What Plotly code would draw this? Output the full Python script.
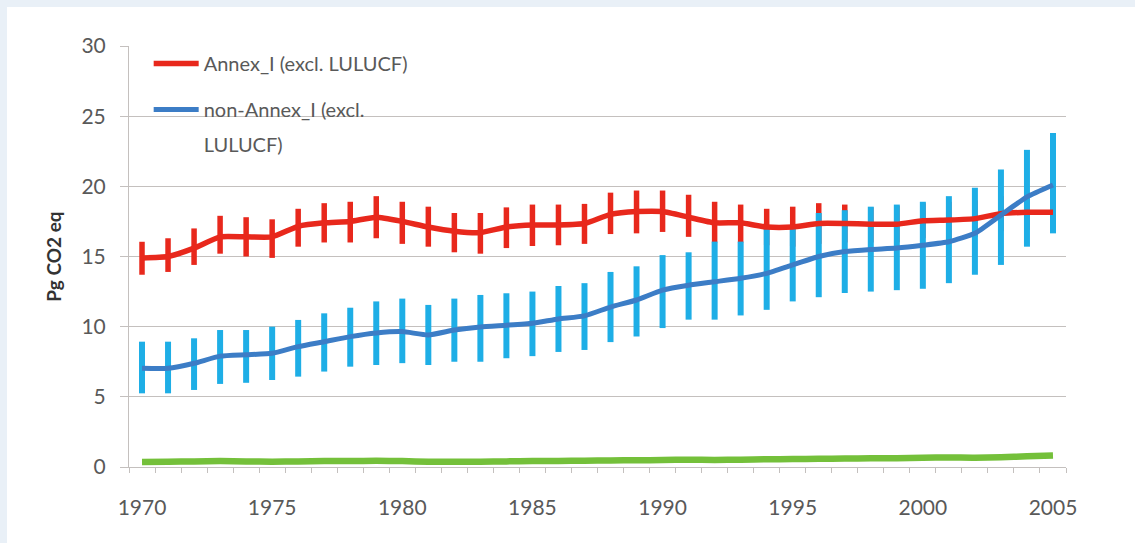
import plotly.graph_objects as go

years = list(range(1970, 2006))

annex_i = [14.9, 15.0, 15.6, 16.4, 16.4, 16.4, 17.15, 17.4, 17.5, 17.8,
           17.5, 17.1, 16.8, 16.7, 17.1, 17.25, 17.25, 17.35, 18.0, 18.2,
           18.2, 17.8, 17.4, 17.4, 17.1, 17.1, 17.35, 17.35, 17.3, 17.3,
           17.55, 17.6, 17.7, 18.05, 18.15, 18.15]
annex_i_upper = [16.05, 16.3, 17.0, 17.9, 17.8, 17.65, 18.4, 18.8, 18.9, 19.3,
                 18.9, 18.55, 18.1, 18.1, 18.5, 18.7, 18.7, 18.75, 19.55, 19.7,
                 19.7, 19.4, 18.9, 18.7, 18.4, 18.55, 18.8, 18.7, 18.5, 18.6,
                 18.8, 18.9, 19.0, 19.3, 19.4, 19.4]
annex_i_lower = [13.7, 13.9, 14.4, 15.2, 15.0, 14.9, 15.7, 16.0, 16.0, 16.3,
                 15.9, 15.7, 15.3, 15.2, 15.6, 15.75, 15.8, 15.9, 16.6, 16.65,
                 16.75, 16.4, 16.0, 16.0, 15.8, 15.7, 15.9, 16.0, 16.0, 16.0,
                 16.3, 16.3, 16.4, 16.8, 16.9, 16.9]

non_annex_i = [7.03, 7.03, 7.39, 7.9, 8.0, 8.1, 8.58, 8.93, 9.29, 9.55,
               9.65, 9.41, 9.76, 9.98, 10.1, 10.24, 10.55, 10.77, 11.4, 11.9,
               12.6, 12.95, 13.2, 13.45, 13.8, 14.4, 15.0, 15.35, 15.5, 15.6,
               15.8, 16.05, 16.65, 17.95, 19.25, 20.1]
non_annex_i_upper = [8.93, 8.93, 9.17, 9.76, 9.76, 10.0, 10.48, 10.95, 11.35, 11.8,
                     12.0, 11.55, 12.0, 12.26, 12.38, 12.5, 12.9, 13.1, 13.9, 14.3,
                     15.1, 15.3, 16.06, 16.06, 17.0, 17.1, 18.1, 18.3, 18.55, 18.7,
                     18.9, 19.3, 19.9, 21.2, 22.6, 23.8]
non_annex_i_lower = [5.25, 5.25, 5.49, 5.92, 6.0, 6.2, 6.44, 6.8, 7.15, 7.27,
                     7.4, 7.27, 7.5, 7.5, 7.75, 7.9, 8.2, 8.34, 8.9, 9.3,
                     9.9, 10.5, 10.5, 10.8, 11.2, 11.8, 12.1, 12.4, 12.5, 12.6,
                     12.7, 13.1, 13.7, 14.4, 15.7, 16.65]

third_series = [0.35, 0.38, 0.4, 0.42, 0.4, 0.38, 0.4, 0.42, 0.43, 0.44,
                0.42, 0.38, 0.37, 0.38, 0.4, 0.42, 0.43, 0.45, 0.47, 0.48,
                0.5, 0.52, 0.5, 0.52, 0.55, 0.57, 0.58, 0.6, 0.62, 0.63,
                0.66, 0.68, 0.66, 0.7, 0.76, 0.82]

tick_years = [1970, 1975, 1980, 1985, 1990, 1995, 2000, 2005]
y_ticks = [0, 5, 10, 15, 20, 25, 30]

legend_annex = "Annex_I (excl. LULUCF)"
legend_non_annex = "non-Annex_I (excl."
legend_non_annex_cont = "LULUCF)"

RED = "#E8281C"
BLUE_LINE = "#3C7DC6"
BLUE_BAR = "#1EAEE6"
GREEN = "#74C03A"
GRID = "#C4C0BE"
TXT = "#595959"
FONT = "Lato, 'Open Sans', sans-serif"

fig = go.Figure()

# red error bars (beneath)
fig.add_trace(go.Scatter(
    x=years, y=annex_i, mode="none", showlegend=False, hoverinfo="skip",
    error_y=dict(type="data", symmetric=False,
                 array=[u - v for u, v in zip(annex_i_upper, annex_i)],
                 arrayminus=[v - l for v, l in zip(annex_i, annex_i_lower)],
                 color=RED, thickness=5.5, width=0)))
# blue error bars
fig.add_trace(go.Scatter(
    x=years, y=non_annex_i, mode="none", showlegend=False, hoverinfo="skip",
    error_y=dict(type="data", symmetric=False,
                 array=[u - v for u, v in zip(non_annex_i_upper, non_annex_i)],
                 arrayminus=[v - l for v, l in zip(non_annex_i, non_annex_i_lower)],
                 color=BLUE_BAR, thickness=6, width=0)))
# green line
fig.add_trace(go.Scatter(
    x=years, y=third_series, mode="lines", showlegend=False,
    line=dict(color=GREEN, width=6.5, shape="spline", smoothing=0.6)))
# red line
fig.add_trace(go.Scatter(
    x=years, y=annex_i, mode="lines", name=legend_annex,
    legendgroup="a", legend="legend",
    line=dict(color=RED, width=5.5, shape="spline", smoothing=0.5)))
# blue line
fig.add_trace(go.Scatter(
    x=years, y=non_annex_i, mode="lines", name=legend_non_annex,
    legendgroup="b", legend="legend",
    line=dict(color=BLUE_LINE, width=5, shape="spline", smoothing=0.5)))
# continuation line of the second legend label (no mark)
fig.add_trace(go.Scatter(
    x=[None], y=[None], mode="lines", name=legend_non_annex_cont,
    legend="legend2", hoverinfo="skip",
    line=dict(color="rgba(0,0,0,0)", width=0)))

legend_common = dict(xanchor="left", yanchor="top", bgcolor="rgba(0,0,0,0)",
                     font=dict(size=20, color=TXT), itemwidth=45)

fig.update_layout(
    width=1135, height=543,
    margin=dict(l=129, r=69, t=46, b=76),
    paper_bgcolor="#E9F0F7",
    plot_bgcolor="rgba(0,0,0,0)",
    font=dict(family=FONT, color=TXT, size=20),
    showlegend=True,
    legend=dict(x=0.021, y=1 + 2 / 421, traceorder="grouped", tracegroupgap=17,
                **legend_common),
    legend2=dict(x=0.021, y=1 - 79 / 421, **legend_common),
    shapes=[dict(type="rect", xref="paper", yref="paper",
                 x0=-122 / 937, x1=1.2, y0=-0.3, y1=1 + 39 / 421,
                 fillcolor="white", line=dict(width=0), layer="below")],
)

fig.update_xaxes(
    range=[1969.5, 2005.5],
    tickmode="array", tickvals=tick_years, ticktext=[str(t) for t in tick_years],
    ticks="", showgrid=False, zeroline=False,
    showline=True, linecolor=GRID, linewidth=1,
    tickfont=dict(size=21, color=TXT), ticklabelstandoff=22,
    minor=dict(ticks="outside", tick0=1969.5, dtick=1, ticklen=5,
               tickcolor=GRID, showgrid=False),
)
fig.update_yaxes(
    range=[0, 30], tickmode="array", tickvals=y_ticks,
    ticks="outside", ticklen=8, tickcolor=GRID,
    showgrid=True, gridcolor=GRID, gridwidth=1, zeroline=False,
    showline=True, linecolor=GRID, linewidth=1,
    tickfont=dict(size=21, color=TXT), ticklabelstandoff=10,
    title=dict(text="Pg CO2 eq", font=dict(size=19, color="#333333", weight="bold"),
               standoff=14),
)

fig.write_html("out.html", config={"displayModeBar": False},
               post_script="document.body.style.margin='0';")
